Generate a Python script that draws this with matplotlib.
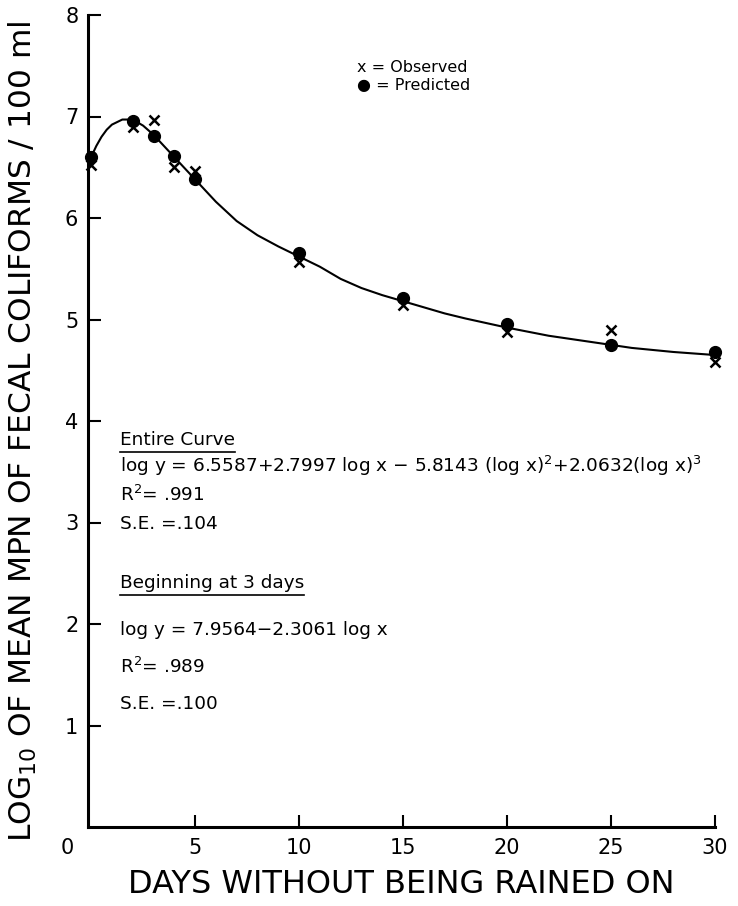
import matplotlib.pyplot as plt
from matplotlib.lines import Line2D

# data
days = [0, 2, 3, 4, 5, 10, 15, 20, 25, 30]
observed = [6.52, 6.90, 6.97, 6.50, 6.46, 5.57, 5.14, 4.88, 4.90, 4.58]
predicted = [6.60, 6.96, 6.81, 6.61, 6.38, 5.66, 5.21, 4.96, 4.75, 4.68]

# fitted curve
curve_x = [0, 0.25, 0.5, 0.75, 1, 1.5, 2, 2.5, 3, 3.5, 4, 4.5, 5, 6, 7, 8, 9, 10,
           11, 12, 13, 14, 15, 16, 17, 18, 20, 22, 24, 26, 28, 30]
curve_y = [6.60, 6.71, 6.80, 6.87, 6.92, 6.97, 6.97, 6.91, 6.82, 6.71, 6.60, 6.49,
           6.38, 6.16, 5.97, 5.83, 5.72, 5.62, 5.52, 5.40, 5.31, 5.24, 5.18,
           5.12, 5.06, 5.01, 4.92, 4.84, 4.78, 4.72, 4.68, 4.65]

xticks = [5, 10, 15, 20, 25, 30]
yticks = [1, 2, 3, 4, 5, 6, 7, 8]

W, H = 738, 906
fig = plt.figure(figsize=(W / 100, H / 100), dpi=100)
ax = fig.add_axes([88 / W, 1 - 827 / H, (715 - 88) / W, (827 - 15) / H])

ax.plot(curve_x, curve_y, '-', color='k', linewidth=1.5, zorder=2)
ax.plot(days, observed, 'x', color='k', markersize=7, markeredgewidth=1.8,
        clip_on=False, zorder=3)
ax.plot(days, predicted, 'o', color='k', markersize=8.5, clip_on=False, zorder=4)

ax.set_xlim(-0.15, 30)
ax.set_ylim(0, 8)
ax.set_xticks(xticks)
ax.set_yticks(yticks)
ax.tick_params(direction='in', length=9, width=1.5, labelsize=15, pad=7)
ax.tick_params(axis='x', pad=8)
for s in ['top', 'right']:
    ax.spines[s].set_visible(False)
for s in ['left', 'bottom']:
    ax.spines[s].set_linewidth(2.2)

ax.annotate('0', xy=(0, 0), xytext=(-17, -8), textcoords='offset points',
            ha='center', va='top', fontsize=15)

ax.set_xlabel('DAYS WITHOUT BEING RAINED ON', fontsize=23, labelpad=8)
ax.set_ylabel('LOG$_{\\mathregular{10}}$ OF MEAN MPN OF FECAL COLIFORMS / 100 ml',
              fontsize=22.5)
ax.yaxis.set_label_coords(-0.078, 0.487)

# legend as text
fig.text(357 / W, 1 - 67 / H, 'x = Observed', fontsize=11.5, va='center')
fig.text(357 / W, 1 - 86 / H, '\u25cf = Predicted', fontsize=11.5, va='center')

# regression notes
notes = [
    (440, 'Entire Curve', True),
    (466, 'log y = 6.5587+2.7997 log x \u2212 5.8143 (log x)$^{2}$+2.0632(log x)$^{3}$', False),
    (495, 'R$^{2}$= .991', False),
    (524, 'S.E. =.104', False),
    (583, 'Beginning at 3 days', True),
    (630, 'log y = 7.9564\u22122.3061 log x', False),
    (667, 'R$^{2}$= .989', False),
    (704, 'S.E. =.100', False),
]
texts = []
for ypx, s, under in notes:
    t = fig.text(120 / W, 1 - ypx / H, s, fontsize=13.3, va='center')
    texts.append((t, under))

fig.canvas.draw()
r = fig.canvas.get_renderer()
for t, under in texts:
    if under:
        bb = t.get_window_extent(renderer=r).transformed(fig.transFigure.inverted())
        fig.add_artist(Line2D([bb.x0, bb.x1], [bb.y0 - 0.003, bb.y0 - 0.003],
                              color='k', linewidth=1.2, transform=fig.transFigure))

fig.savefig('out.png', dpi=100)
